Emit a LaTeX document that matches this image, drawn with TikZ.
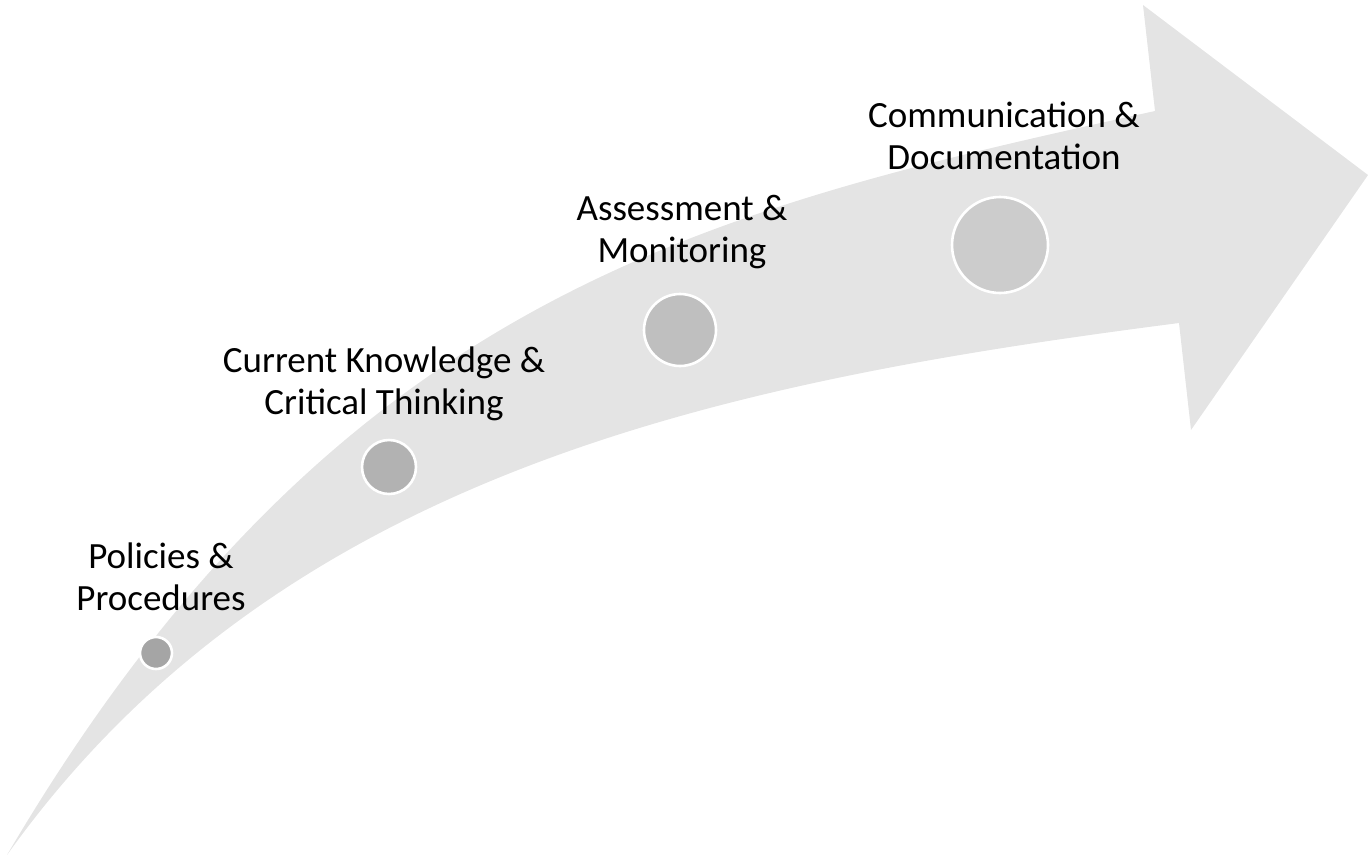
\documentclass[tikz,border=0pt]{standalone}
\usepackage{fontspec}
\setmainfont{Carlito}
\begin{document}
\begin{tikzpicture}[x=1pt,y=-1pt,
  arrowbody/.style={fill=arrowgray},
  dot/.style={circle,draw=white,line width=2.6pt,inner sep=0pt},
  label/.style={anchor=base,inner sep=0pt,font=\fontsize{37}{42}\selectfont}]
\definecolor{arrowgray}{HTML}{E4E4E4}
\definecolor{d1}{HTML}{A5A5A5}
\definecolor{d2}{HTML}{B2B2B2}
\definecolor{d3}{HTML}{BFBFBF}
\definecolor{d4}{HTML}{CCCCCC}
\useasboundingbox (0,0) rectangle (1372,855);
\fill[arrowbody] (7,855) .. controls (337,294) and (705,210) .. (1155,111)
  -- (1143,5) -- (1368,175) -- (1191,430) -- (1179,323)
  .. controls (729,381) and (282,470) .. (7,855) -- cycle;
\node[dot,fill=d1,minimum size=32pt] (c1) at (156,653) {};
\node[dot,fill=d2,minimum size=54pt] (c2) at (389,467) {};
\node[dot,fill=d3,minimum size=72pt] (c3) at (680,330) {};
\node[dot,fill=d4,minimum size=96pt] (c4) at (1000,245) {};
\node[label] (t1) at (161,568) {\begin{tabular}[t]{@{}c@{}}Policies \&\\Procedures\end{tabular}};
\node[label] (t2) at (384,372) {\begin{tabular}[t]{@{}c@{}}Current Knowledge \&\\Critical Thinking\end{tabular}};
\node[label] (t3) at (682,220) {\begin{tabular}[t]{@{}c@{}}Assessment \&\\Monitoring\end{tabular}};
\node[label] (t4) at (1004,127) {\begin{tabular}[t]{@{}c@{}}Communication \&\\Documentation\end{tabular}};
\end{tikzpicture}
\end{document}
